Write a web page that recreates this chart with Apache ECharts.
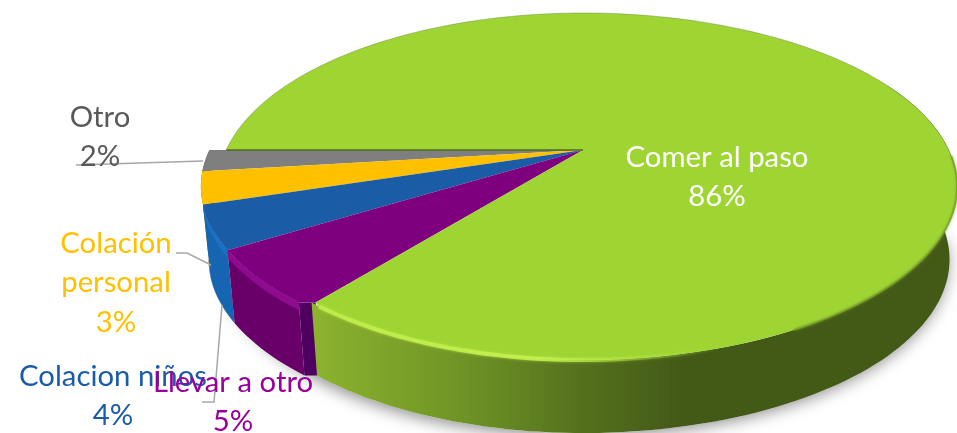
<!DOCTYPE html>
<html>
<head>
<meta charset="utf-8">
<style>
html, body { margin: 0; padding: 0; background: #fff; }
#chart { width: 957px; height: 433px; }
</style>
<script src="https://cdn.jsdelivr.net/npm/echarts@6/dist/echarts.min.js"></script>
</head>
<body>
<div id="chart"></div>
<script>
// valores del grafico, en orden desde el borde izquierdo hacia el frente
const categorias = ['Otro', 'Colación personal', 'Colacion niños', 'Llevar a otro', 'Comer al paso'];
const valores = [2, 3, 4, 5, 86];

const coloresCara = ['#7f7f7f', '#ffc000', '#1a5ca6', '#7f007f', '#9ed532'];
const coloresPared = ['#555555', '#8a6400', '#1565b3', '#690069', null];
const coloresBisel = [null, null, '#1a72c4', '#8e0a8e', null];
const coloresTexto = ['#595959', '#ffc000', '#1b5ca8', '#990099', '#ffffff'];

// posicion de cada etiqueta (centro del texto)
const etiquetas = [
    { x: 100, y: 137, corte: false },
    { x: 116, y: 283, corte: true },
    { x: 113, y: 396, corte: false },
    { x: 233, y: 402, corte: false },
    { x: 717, y: 177, corte: false }
];
const lineasGuia = [
    [[76, 165], [203, 161]],
    [[176, 253], [187, 253], [211, 265]],
    [[222, 305], [214, 402], [202, 402]]
];

// proyeccion en perspectiva del circulo del pastel
const cx = 583, cy = 150, A = 356.8, B = 134.3, k = -0.2104;
const profundidad = 73, encogeBase = 0.98;
const explosion = 1.047, anchoDerecha = 1.025;
const total = valores.reduce((a, b) => a + b, 0);

function punto(phi, factorX) {
    let r = phi * Math.PI / 180;
    let u = -Math.cos(r), v = Math.sin(r);
    let w = 1 + k * v;
    let f = u > 0 ? anchoDerecha : factorX;
    return [cx + f * A * u / w, (cy + B * v) / w];
}
function puntoBase(phi, factorX) {
    let p = punto(phi, factorX);
    return [cx + (p[0] - cx) * encogeBase, p[1] + profundidad];
}
function puntoBisel(phi, factorX) {
    let p = punto(phi, factorX);
    return [cx + (p[0] - cx) * 0.998, p[1] + 8];
}
function arco(fn, a0, a1, factorX) {
    let pts = [];
    let n = Math.max(2, Math.ceil(Math.abs(a1 - a0) / 1.5));
    for (let i = 0; i <= n; i++) {
        pts.push(fn(a0 + (a1 - a0) * i / n, factorX));
    }
    return pts;
}
function rango(i) {
    let acum = 0;
    for (let j = 0; j < i; j++) acum += valores[j];
    return [acum / total * 360, (acum + valores[i]) / total * 360];
}
function factorDe(i) {
    return i === 4 ? 1 : explosion;
}
function gradX(x0, x1, stops) {
    return new echarts.graphic.LinearGradient(x0, 0, x1, 0, stops, true);
}

function dibujarParedes(params) {
    let i = params.dataIndex;
    let [a0, a1] = rango(i);
    let f = factorDe(i);
    let hijos = [];
    if (i === 0) {
        // sombra suave bajo el pastel
        hijos.push({
            type: 'polygon',
            shape: { points: arco(puntoBase, 18, 175, 1) },
            style: { fill: '#fff', shadowColor: 'rgba(0,0,0,0.45)', shadowBlur: 16, shadowOffsetY: 3, shadowOffsetX: -2 }
        });
    }
    let fin = i === 4 ? 205 : a1;
    let pts = arco(punto, a0, fin, f).concat(arco(puntoBase, fin, a0, f));
    let relleno = i === 4
        ? gradX(316, 800, [
            { offset: 0, color: '#8cb22e' },
            { offset: 0.3, color: '#6f9426' },
            { offset: 0.55, color: '#55701d' },
            { offset: 0.75, color: '#435a17' },
            { offset: 1, color: '#435a17' }
        ])
        : coloresPared[i];
    hijos.push({ type: 'polygon', shape: { points: pts }, style: { fill: relleno } });
    if (i === 3) {
        // corte radial oscuro entre morado y verde
        let a = punto(a1, explosion), b = punto(a1, 0.985);
        let c = puntoBase(a1, 0.985), d = puntoBase(a1, explosion);
        hijos.push({ type: 'polygon', shape: { points: [a, b, c, d] }, style: { fill: '#4d0060' } });
    }
    if (coloresBisel[i]) {
        // banda clara del bisel justo bajo la cara
        hijos.push({
            type: 'polygon',
            shape: { points: arco(punto, a0, a1, f).concat(arco(puntoBisel, a1, a0, f)) },
            style: { fill: coloresBisel[i] }
        });
    }
    return { type: 'group', children: hijos };
}

function dibujarCaras(params) {
    let i = params.dataIndex;
    let [a0, a1] = rango(i);
    let f = factorDe(i);
    let pts;
    if (i === 4) {
        // esquina del verde algo redondeada, como en el bisel original
        pts = [[cx, cy], punto(a0, 0.985)].concat(arco(punto, a0 + 1.5, a1, f));
    } else {
        pts = [[cx, cy]].concat(arco(punto, a0, a1, f));
    }
    if (i === 3) {
        // el morado llega hasta la esquina del sector verde
        pts.push(punto(a1, 0.985));
    }
    let hijos = [{ type: 'polygon', shape: { points: pts }, style: { fill: coloresCara[i] } }];
    if (i === 4) {
        // brillo del bisel en el borde frontal
        hijos.push({
            type: 'polyline',
            shape: { points: arco(punto, a0 + 1.5, 118, 1) },
            style: {
                fill: null, lineWidth: 4,
                stroke: gradX(316, 720, [
                    { offset: 0, color: 'rgba(190,236,74,0.9)' },
                    { offset: 0.55, color: 'rgba(196,242,78,0.9)' },
                    { offset: 1, color: 'rgba(160,214,50,0)' }
                ]),
                shadowBlur: 3, shadowColor: 'rgba(190,236,74,0.8)'
            }
        });
        // borde difuminado del lado oscuro
        hijos.push({
            type: 'polyline',
            shape: { points: arco(punto, 118, 178, 1) },
            style: { fill: null, stroke: 'rgba(120,160,40,0.8)', lineWidth: 2, shadowBlur: 3, shadowColor: 'rgba(120,160,40,0.8)' }
        });
        // contorno fino de la parte trasera
        hijos.push({
            type: 'polyline',
            shape: { points: arco(punto, 178, 360, 1) },
            style: { fill: null, stroke: 'rgba(90,110,60,0.35)', lineWidth: 1 }
        });
        // canto oscuro sobre el sector gris
        hijos.push({
            type: 'polyline',
            shape: { points: [[cx, cy], punto(360, 1)] },
            style: { fill: null, stroke: '#4f6b1a', lineWidth: 1.5 }
        });
    }
    return { type: 'group', children: hijos };
}

function dibujarEtiquetas(params) {
    let i = params.dataIndex;
    let nombre = etiquetas[i].corte ? categorias[i].replace(' ', '\n') : categorias[i];
    return {
        type: 'text',
        z2: i === 3 ? 5 : 1,
        style: {
            x: etiquetas[i].x,
            y: etiquetas[i].y,
            text: nombre + '\n' + valores[i] + '%',
            align: 'center',
            verticalAlign: 'middle',
            font: '29.3px Lato',
            lineHeight: 39.5,
            fill: coloresTexto[i]
        }
    };
}

function dibujarGuias() {
    return {
        type: 'group',
        children: lineasGuia.map(l => ({
            type: 'polyline',
            shape: { points: l },
            style: { fill: null, stroke: '#a6a6a6', lineWidth: 1.5 }
        }))
    };
}

let grafico = echarts.init(document.getElementById('chart'));
grafico.setOption({
    animation: false,
    backgroundColor: '#fff',
    series: [
        { type: 'custom', coordinateSystem: 'none', silent: true, z: 1, renderItem: dibujarParedes, data: valores },
        { type: 'custom', coordinateSystem: 'none', silent: true, z: 2, renderItem: dibujarCaras, data: valores },
        { type: 'custom', coordinateSystem: 'none', silent: true, z: 3, renderItem: dibujarGuias, data: [0] },
        { type: 'custom', coordinateSystem: 'none', silent: true, z: 4, renderItem: dibujarEtiquetas, data: valores }
    ]
});
</script>
</body>
</html>
